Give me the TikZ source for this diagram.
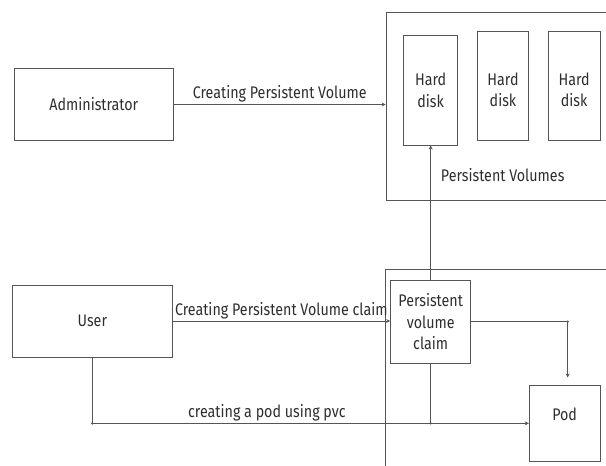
\documentclass[tikz,border=0pt]{standalone}
\usepackage{fontspec}
\setmainfont{Fira Sans}[FakeStretch=0.85]
\usetikzlibrary{arrows.meta}
\definecolor{ln}{HTML}{555555}
\definecolor{txt}{HTML}{2e2e2e}
\begin{document}
\begin{tikzpicture}[x=1pt,y=-1pt,
  every node/.style={text=txt, font=\fontsize{16.8}{21.7}\selectfont},
  box/.style={draw=ln, line width=1pt, inner sep=0pt, align=center},
  conn/.style={draw=ln, line width=1pt},
  arr/.style={conn, -{Stealth[length=4pt,width=4pt]}},
  jdot/.style={circle, fill=ln, inner sep=0pt, minimum size=2.6pt},
  lbl/.style={inner sep=1.5pt},
  disktext/.style={align=center, yshift=-3.6pt}]
\useasboundingbox (0,0) rectangle (606,466);
\clip (0,0) rectangle (606,466);
% containers
\node[box, minimum width=240pt, minimum height=187.7pt, anchor=north west] (pv) at (385.7,12.3) {};
\node[box, minimum width=240pt, minimum height=220pt, anchor=north west] (pvcc) at (385,269) {};
% nodes
\node[box, minimum width=159pt, minimum height=72.4pt] (admin) at (93.8,104.5) {Administrator};
\node[box, minimum width=54pt, minimum height=109.3pt] (hd1) at (430.7,90.35) {Hard\\disk};
\node[box, minimum width=50.6pt, minimum height=109pt,
  label={[name=hd2t, disktext]center:{Hard\\disk}}] (hd2) at (503,86.2) {};
\node[box, minimum width=51.7pt, minimum height=109pt,
  label={[name=hd3t, disktext]center:{Hard\\disk}}] (hd3) at (574.15,86.2) {};
\node (pvlabel) at (502.7,175) {Persistent Volumes};
\node[box, minimum width=159.3pt, minimum height=72pt] (user) at (92.35,321) {User};
\node[box, minimum width=80pt, minimum height=83.3pt] (pvc) at (430.7,321.65) {Persistent\\volume\\claim};
\node[box, minimum width=70.7pt, minimum height=76.7pt] (pod) at (564.65,423.35) {};
\node (podtxt) at (564.65,414) {Pod};
% connectors
\draw[arr] (admin.east) -- (admin.east -| pv.west)
  node[lbl, midway, above] (l1) {Creating Persistent Volume};
\draw[arr] (pvc.north) -- (hd1.south);
\draw[arr] (user.east) -- (user.east -| pvc.west)
  node[lbl, midway, above] (l2) {Creating Persistent Volume claim};
\coordinate (c1) at (567.7,321.65);
\draw[arr, shorten >=7pt] (pvc.east) -- (c1) -- (c1 |- pod.north);
\draw[arr] (user.south) |- (pod.west)
  node[lbl, pos=0.70, above] (l3) {creating a pod using pvc};
\draw[conn] (pvc.south) -- (pvc.south |- pod.west);
% junction dots
\node[jdot] (d1) at (c1) {};
\node[jdot] (d2) at (user.south |- pod.west) {};
\node[jdot] (d3) at (pvc.south |- pod.west) {};
\end{tikzpicture}
\end{document}
